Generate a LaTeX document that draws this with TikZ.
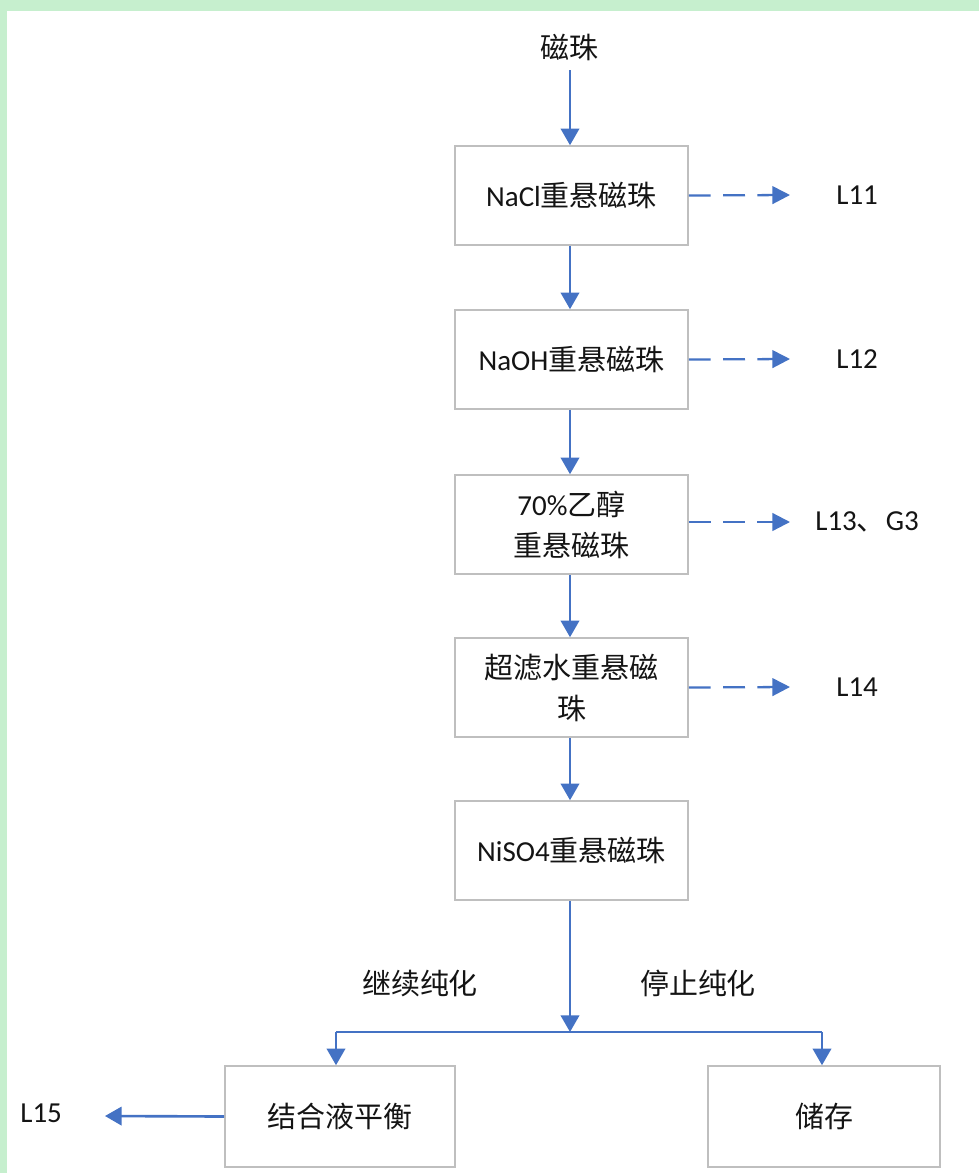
\documentclass[tikz,border=0pt]{standalone}
\usepackage{fontspec}
\setmainfont{Noto Sans CJK SC}
\newfontfamily\lat{Carlito}
\usetikzlibrary{arrows.meta}
\definecolor{bandgreen}{RGB}{198,239,206}
\definecolor{flowblue}{RGB}{68,114,196}
\definecolor{boxgray}{RGB}{191,191,191}
\definecolor{txt}{RGB}{20,20,20}
\tikzset{
  stepbox/.style={draw=boxgray, line width=0.9pt, fill=white, minimum width=4.66cm, minimum height=1.98cm, align=center, inner sep=2pt, text=txt},
  lbl/.style={text=txt, inner sep=0pt},
  flow/.style={draw=flowblue, line width=1.5pt, -{Triangle[length=9.5pt,width=10.5pt]}},
  flowline/.style={draw=flowblue, line width=1.5pt},
  dflow/.style={draw=flowblue, line width=1.3pt, dash pattern=on 12.5pt off 7pt, -{Triangle[length=10pt,width=10pt]}},
}
\begin{document}
\begin{tikzpicture}[x=0.02cm, y=-0.02cm, font=\fontsize{16.5}{23.3}\selectfont]
\useasboundingbox (0,0) rectangle (979,1173);
\fill[bandgreen] (0,0) rectangle (979,1173);
\fill[white] (7,11) rectangle (979,1173);

\node[lbl] (src) at (569,47) {磁珠};
\node[stepbox] (b1) at (571.5,195.5) {{\lat NaCl}重悬磁珠};
\node[stepbox] (b2) at (571.5,359.5) {{\lat NaOH}重悬磁珠};
\node[stepbox] (b3) at (571.5,524.5) {{\lat 70\%}乙醇\\重悬磁珠};
\node[stepbox] (b4) at (571.5,687.5) {超滤水重悬磁\\珠};
\node[stepbox] (b5) at (571.5,850.5) {{\lat NiSO4}重悬磁珠};
\node[stepbox, minimum width=4.6cm, minimum height=2.02cm] (b6) at (340,1116.5) {结合液平衡};
\node[stepbox, minimum width=4.64cm, minimum height=2.02cm] (b7) at (824,1116.5) {储存};

\node[lbl, anchor=west] (o1) at (836,195) {\lat L11};
\node[lbl, anchor=west] (o2) at (836,359) {\lat L12};
\node[lbl, anchor=west] (o3) at (815,522) {{\lat L13}、{\lat G3}};
\node[lbl, anchor=west] (o4) at (836,687) {\lat L14};
\node[lbl, anchor=west] (o5) at (20,1113) {\lat L15};

\node[lbl] (cont) at (420,983) {继续纯化};
\node[lbl] (stop) at (698,983) {停止纯化};

\coordinate (srcend) at (570,70);
\coordinate (jn) at (570,1032);
\coordinate (jl) at (336,1032);
\coordinate (jr) at (822,1032);
\coordinate (d1) at (790,195);
\coordinate (d2) at (790,359);
\coordinate (d3) at (790,522);
\coordinate (d4) at (790,687);
\coordinate (l5) at (105,1116);

\draw[flow] (srcend) -- (b1.north -| srcend);
\draw[flow] (b1.south -| srcend) -- (b2.north -| srcend);
\draw[flow] (b2.south -| srcend) -- (b3.north -| srcend);
\draw[flow] (b3.south -| srcend) -- (b4.north -| srcend);
\draw[flow] (b4.south -| srcend) -- (b5.north -| srcend);
\draw[flow] (b5.south -| jn) -- (jn);
\draw[flowline] (jl) -- (jr);
\draw[flow] (jl) -- (jl |- b6.north);
\draw[flow] (jr) -- (jr |- b7.north);
\draw[flow] (b6.west) -- (l5);

\draw[dflow] (b1.east) -- (d1);
\draw[dflow] (b2.east) -- (d2);
\draw[dflow] (b3.east |- d3) -- (d3);
\draw[dflow] (b4.east) -- (d4);
\end{tikzpicture}
\end{document}
